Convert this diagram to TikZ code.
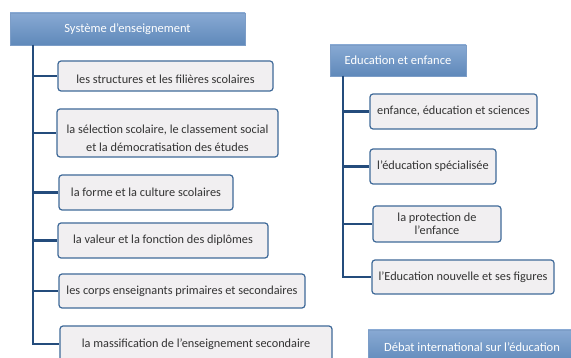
\documentclass[tikz,border=0pt]{standalone}
\usepackage{fontspec}
\setmainfont{Carlito}
\usetikzlibrary{shadings}
\definecolor{hdtop}{HTML}{88A9D3}
\definecolor{hdbot}{HTML}{5F89BA}
\definecolor{hdedge}{HTML}{7C9DC7}
\definecolor{chfill}{HTML}{F1EFF1}
\definecolor{chedge}{HTML}{3F6A99}
\definecolor{connc}{HTML}{244C7C}
\definecolor{txt}{HTML}{333333}
\newcommand{\lowtxt}[2]{\raisebox{-#1}[0pt][0pt]{#2}}
\tikzset{
  header/.style={draw=hdedge, line width=0.8pt, top color=hdtop, bottom color=hdbot,
    text=white, font=\fontsize{12.5}{14}\selectfont, inner sep=0pt, align=center},
  child/.style={draw=chedge, line width=1.2pt, fill=chfill, rounded corners=3pt,
    text=txt, font=\fontsize{12.3}{14}\selectfont, inner sep=0pt, align=center},
  conn/.style={draw=connc, line width=2.6pt}
}
\begin{document}
\begin{tikzpicture}[x=1pt,y=-1pt]
\useasboundingbox (0,0) rectangle (571,358);
\clip (0,0) rectangle (571,358);
\fill[white] (0,0) rectangle (571,358);
% headers
\node[header, minimum width=235, minimum height=32] (h1) at (127.5,29) {\lowtxt{4pt}{Système d'enseignement}};
\node[header, minimum width=136, minimum height=31] (h2) at (398,60.5) {\lowtxt{4.2pt}{Education et enfance}};
\node[header, minimum width=208, minimum height=34] (h3) at (472,347) {Débat international sur l'éducation};
% left column children
\node[child, minimum width=215, minimum height=30] (c1) at (165.5,76) {\lowtxt{7.5pt}{les structures et les filières scolaires}};
\node[child, minimum width=221, minimum height=48] (c2) at (167.5,133) {\lowtxt{10pt}{\begin{tabular}{@{}c@{}}la sélection scolaire, le classement social\\[4pt]et la démocratisation des études\end{tabular}}};
\node[child, minimum width=174, minimum height=35] (c3) at (146,192.5) {la forme et la culture scolaires};
\node[child, minimum width=210, minimum height=35] (c4) at (163,240.5) {la valeur et la fonction des diplômes};
\node[child, minimum width=246, minimum height=34] (c5) at (182,291) {les corps enseignants primaires et secondaires};
\node[child, minimum width=272, minimum height=36] (c6) at (196,344) {la massification de l'enseignement secondaire};
% right column children
\node[child, minimum width=167, minimum height=35] (e1) at (453.5,111.5) {enfance, éducation et sciences};
\node[child, minimum width=126, minimum height=35] (e2) at (433,166.5) {l'éducation spécialisée};
\node[child, minimum width=128, minimum height=36, font=\fontsize{12.3}{13}\selectfont] (e3) at (437,224) {la protection de\\l'enfance};
\node[child, minimum width=182, minimum height=34] (e4) at (463,277) {l'Education nouvelle et ses figures};
% connectors
\coordinate (t1) at (33,45);
\coordinate (t2) at (343,76);
\foreach \c in {c1,c2,c3,c4,c5,c6} \draw[conn] (t1) |- (\c.west);
\foreach \c in {e1,e2,e3,e4} \draw[conn] (t2) |- (\c.west);
\end{tikzpicture}
\end{document}
